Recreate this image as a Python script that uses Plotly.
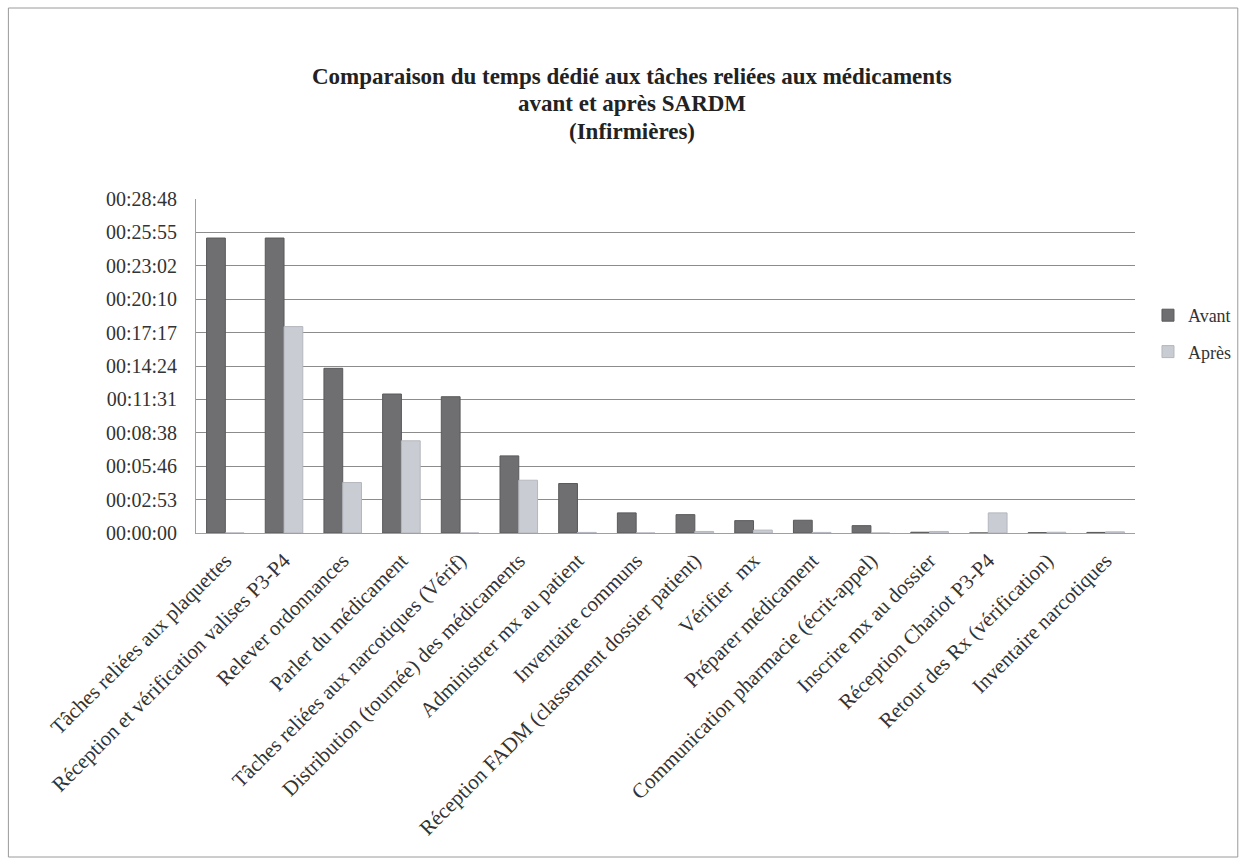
import plotly.graph_objects as go

categories = [
    "Tâches reliées aux plaquettes",
    "Réception et vérification valises P3-P4",
    "Relever ordonnances",
    "Parler du médicament",
    "Tâches reliées aux narcotiques (Vérif)",
    "Distribution (tournée) des médicaments",
    "Administrer mx au patient",
    "Inventaire communs",
    "Réception FADM (classement dossier patient)",
    "Vérifier  mx",
    "Préparer médicament",
    "Communication pharmacie (écrit-appel)",
    "Inscrire mx au dossier",
    "Réception Chariot P3-P4",
    "Retour des Rx (vérification)",
    "Inventaire narcotiques",
]
# durations in seconds
avant = [1526, 1526, 852, 719, 705, 399, 256, 104, 95, 64, 66, 38, 4, 0, 2, 3]
apres = [0, 1068, 261, 477, 0, 273, 3, 0, 8, 15, 3, 0, 8, 104, 4, 6]

tick_vals = [i * 172.8 for i in range(11)]
tick_text = ["00:00:00", "00:02:53", "00:05:46", "00:08:38", "00:11:31", "00:14:24",
             "00:17:17", "00:20:10", "00:23:02", "00:25:55", "00:28:48"]

title_lines = ["Comparaison du temps dédié aux tâches reliées aux médicaments",
               "avant et après SARDM",
               "(Infirmières)"]

serif = "Liberation Serif, Times New Roman, serif"

fig = go.Figure()
fig.add_trace(go.Bar(name="Avant", x=categories, y=avant, legendgroup="a",
                     marker=dict(color="#6f6f72", line=dict(color="#5a5a5c", width=1))))
fig.add_trace(go.Bar(name="Après", x=categories, y=apres, legendgroup="b",
                     marker=dict(color="#c9ccd3", line=dict(color="#b4b7be", width=1))))

L, R, T, B = 196, 1137, 199, 533
W, H = 1248, 865

def py(p):
    return (B - p) / (B - T)

def px(p):
    return (p - L) / (R - L)

fig.update_layout(
    width=W, height=H,
    margin=dict(l=L, r=W - R, t=T, b=H - B),
    paper_bgcolor="white", plot_bgcolor="white",
    barmode="group", bargap=0.36, bargroupgap=0.0,
    font=dict(family=serif, color="#333333"),
    legend=dict(x=px(1150), xanchor="left", y=py(297), yanchor="top",
                font=dict(family=serif, size=18, color="#333333"),
                itemwidth=30, tracegroupgap=10, bgcolor="rgba(0,0,0,0)"),
    showlegend=True,
)
for txt, yc in zip(title_lines, [77, 104, 131]):
    fig.add_annotation(text=txt, xref="paper", yref="paper", x=px(633), y=py(yc),
                       xanchor="center", yanchor="middle", showarrow=False,
                       font=dict(family=serif, size=23, color="#222222", weight="bold"))

fig.update_yaxes(
    range=[0, 1728], tickvals=tick_vals, ticktext=tick_text,
    showgrid=True, gridcolor="#8c8c8c", gridwidth=1,
    showline=True, linecolor="#a0a0a0", linewidth=1,
    tickfont=dict(family=serif, size=20, color="#333333"),
    ticks="", ticklabelstandoff=14, zeroline=False,
)
fig.update_xaxes(
    tickangle=-45, tickfont=dict(family=serif, size=21, color="#333333"),
    showline=True, linecolor="#a0a0a0", linewidth=1, ticks="",
    ticklabelstandoff=6,
)
# outer frame of the chart
fig.add_shape(type="rect", xref="paper", yref="paper",
              x0=px(8), x1=px(1240), y0=py(857), y1=py(8),
              line=dict(color="#9a9a9a", width=1), layer="below")

fig.write_html("out.html")
